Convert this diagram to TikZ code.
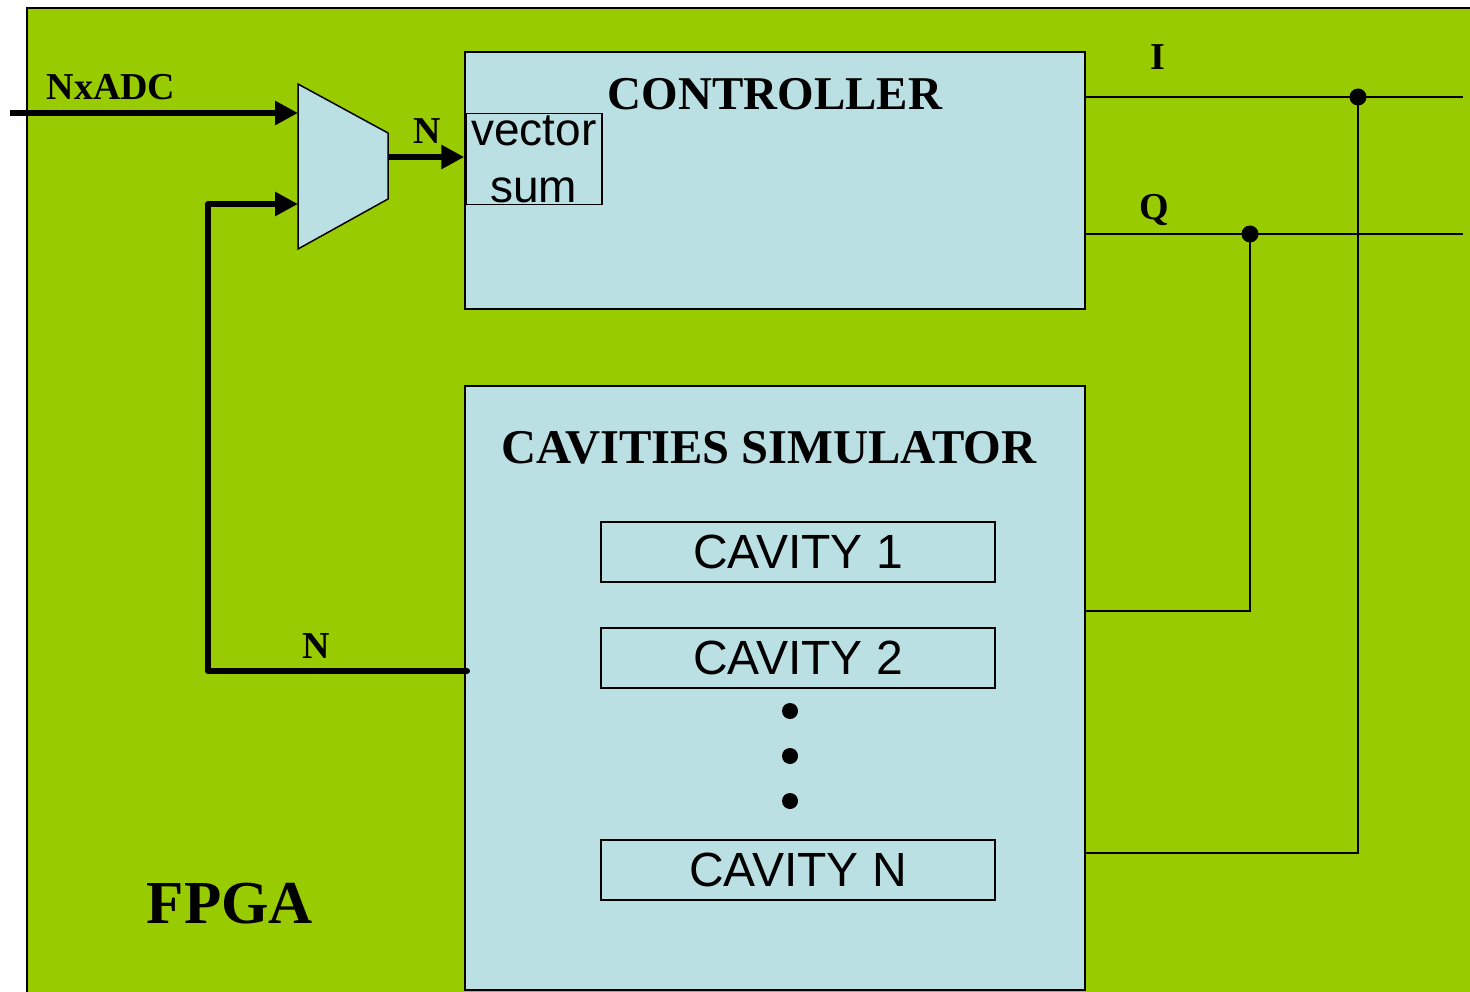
\documentclass[tikz,border=0pt]{standalone}
\usepackage{fontspec}
\setmainfont{Liberation Serif}
\setsansfont{Liberation Sans}
\usetikzlibrary{arrows.meta}
\definecolor{fpgagreen}{HTML}{99CC00}
\definecolor{blockblue}{HTML}{BBE0E3}

\begin{document}
\begin{tikzpicture}[x=1pt,y=-1pt,
  block/.style={draw=black,line width=1.5pt,fill=blockblue,inner sep=0pt},
  cav/.style={block,minimum width=394pt,minimum height=60pt,font=\sffamily\fontsize{48}{56}\selectfont},
  title/.style={anchor=base,font=\bfseries\fontsize{47}{56}\selectfont},
  lbl/.style={anchor=base,font=\bfseries\fontsize{38}{46}\selectfont},
  bus/.style={line width=6pt,line join=round},
  busarrow/.style={bus,-{Triangle[length=23pt,width=23pt]}},
  wire/.style={line width=2pt},
  jdot/.style={circle,fill=black,inner sep=0pt,minimum size=17pt}]
  \useasboundingbox (0,0) rectangle (1470,992);

  % FPGA
  \fill[fpgagreen] (27,8) rectangle (1476,998);
  \draw[wire] (27,998) -- (27,8) -- (1476,8);
  \node[anchor=base,font=\bfseries\fontsize{61}{70}\selectfont] (fpga) at (230,923) {FPGA};

  % Controller
  \node[block,minimum width=620pt,minimum height=257pt] (ctrl) at (775,180.5) {};
  \node[title] (ctrltitle) at (775,110) {CONTROLLER};
  \node[block,minimum width=136pt,minimum height=91pt,anchor=north west,align=center,
        font=\sffamily\fontsize{46}{57}\selectfont] (vsum) at (465,113) {vector\\sum};

  % Simulador de cavidades
  \node[block,minimum width=620pt,minimum height=604pt] (sim) at (775,688) {};
  \node[title,font=\bfseries\fontsize{48.5}{56}\selectfont] (simtitle) at (769,463) {CAVITIES SIMULATOR};
  \node[cav] (cav1) at (798,552) {CAVITY 1};
  \node[cav] (cav2) at (798,658) {CAVITY 2};
  \node[cav] (cavn) at (798,870) {CAVITY N};
  \foreach \y/\i in {711/1,756/2,801/3}
    \node[jdot,minimum size=16pt] (vdot\i) at (790,\y) {};

  % Mux
  \coordinate (muxin1) at (298,113);
  \coordinate (muxin2) at (298,204);
  \coordinate (muxout) at (388,157);
  \draw[line width=1.5pt,fill=blockblue] (298,84) -- (388,133) -- (388,199) -- (298,249) -- cycle;

  % Buses
  \coordinate (adc) at (10,113);
  \coordinate (fbout) at (467,671);
  \draw[busarrow] (adc) -- (muxin1);
  \draw[busarrow] (muxout) -- (muxout -| ctrl.west);
  \draw[busarrow,line cap=round] (fbout) -- (208,671) -- (208,204) -- (muxin2);
  \node[lbl] (adclbl) at (111,100) {NxADC};
  \node[lbl] (nmux) at (427,144) {N};
  \node[lbl] (nfb) at (316,658) {N};

  % I / Q
  \coordinate (iout) at (1085,97);
  \coordinate (iend) at (1463,97);
  \coordinate (qout) at (1085,234);
  \coordinate (qend) at (1463,234);
  \coordinate (simq) at (1085,611);
  \coordinate (simi) at (1085,853);
  \node[jdot] (idot) at (1358,97) {};
  \node[jdot] (qdot) at (1250,234) {};
  \draw[wire] (iout) -- (iend);
  \draw[wire] (qout) -- (qend);
  \draw[wire] (simq) -| (qdot.center);
  \draw[wire] (simi) -| (idot.center);
  \node[lbl] (ilbl) at (1158,70) {I};
  \node[lbl] (qlbl) at (1154,220) {Q};
\end{tikzpicture}
\end{document}
